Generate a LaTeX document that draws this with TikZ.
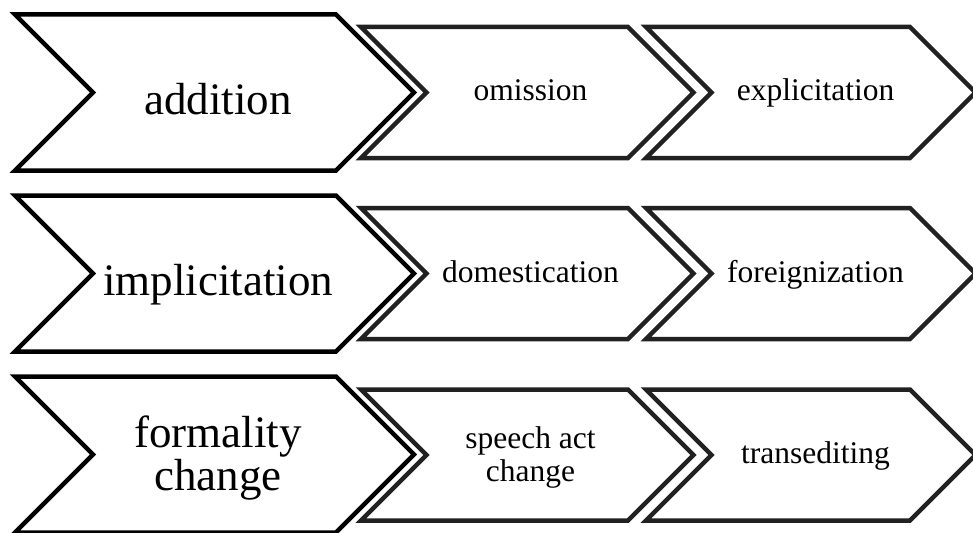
\documentclass[tikz,border=0pt]{standalone}
\usepackage{fontspec}
\setmainfont{Liberation Serif}
\begin{document}
\begin{tikzpicture}[x=1pt,y=-1pt,
  bigchev/.style={draw=black,line width=4.5pt,fill=white,line join=miter},
  smallchev/.style={draw=black!87,line width=4.5pt,fill=white,line join=miter},
  bigtxt/.style={font=\fontsize{45}{42.7}\selectfont,anchor=base,align=center,inner sep=0pt},
  smalltxt/.style={font=\fontsize{31.5}{32.5}\selectfont,anchor=base,align=center,inner sep=0pt}]
\useasboundingbox (0,0) rectangle (973,532);
\newcommand\chevshape[5]{% style, left x, top-right x, centre y, half height
  \path[#1] ({#2},{#4-#5}) -- ({#3},{#4-#5}) -- ({#3+#5},{#4}) -- ({#3},{#4+#5})
    -- ({#2},{#4+#5}) -- ({#2+#5},{#4}) -- cycle;}
% row 1
\chevshape{bigchev}{15}{336}{92.5}{78}
\chevshape{smallchev}{361}{628}{92.5}{65.5}
\chevshape{smallchev}{646}{910}{92.5}{65.5}
% row 2
\chevshape{bigchev}{15}{336}{273.5}{78}
\chevshape{smallchev}{361}{628}{273.5}{65.5}
\chevshape{smallchev}{646}{910}{273.5}{65.5}
% row 3
\chevshape{bigchev}{15}{336}{454.5}{78}
\chevshape{smallchev}{361}{628}{455}{65.5}
\chevshape{smallchev}{646}{910}{455}{65.5}
% labels (multi-line labels are anchored at the baseline of their last line)
\node[bigtxt] (addition) at (218,114) {addition};
\node[smalltxt] (omission) at (530.5,101) {omission};
\node[smalltxt] (explicitation) at (815.5,101) {explicitation};
\node[bigtxt] (implicitation) at (218,295) {implicitation};
\node[smalltxt] (domestication) at (530.5,282) {domestication};
\node[smalltxt] (foreignization) at (815.5,282) {foreignization};
\node[bigtxt] (formality) at (218,490) {formality\\change};
\node[smalltxt] (speechact) at (530.5,481) {speech act\\change};
\node[smalltxt] (transediting) at (815.5,463) {transediting};
\end{tikzpicture}
\end{document}
